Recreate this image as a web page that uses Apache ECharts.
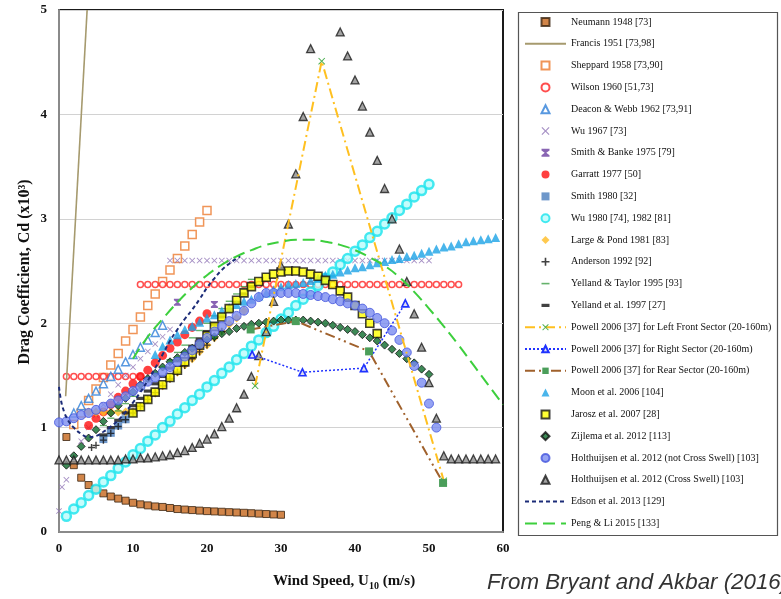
<!DOCTYPE html>
<html><head><meta charset="utf-8">
<script src="https://cdn.jsdelivr.net/npm/echarts@6/dist/echarts.min.js"></script>
<style>html,body{margin:0;padding:0;background:#fff}#c{width:781px;height:599px}</style>
</head><body><div id="c"></div>
<script>
// ---- axis ticks ----
const xTicks = [0, 10, 20, 30, 40, 50, 60];
const yTicks = [0, 1, 2, 3, 4, 5];

// ---- data: [wind speed U10 (m/s), Cd x 10^3] ----
const neumann = [[1,0.91],[2,0.64],[3,0.52],[4,0.45],[5,0.41],[6,0.37],[7,0.34],[8,0.32],[9,0.30],[10,0.28],[11,0.265],[12,0.255],[13,0.245],[14,0.24],[15,0.23],[16,0.22],[17,0.215],[18,0.21],[19,0.205],[20,0.20],[21,0.197],[22,0.194],[23,0.19],[24,0.187],[25,0.184],[26,0.18],[27,0.176],[28,0.172],[29,0.168],[30,0.165]];
const francis = [[0.9,1.30],[3.8,5.0]];
const sheppard = [[2,1.03],[3,1.14],[4,1.26],[5,1.37],[6,1.48],[7,1.60],[8,1.71],[9,1.83],[10,1.94],[11,2.06],[12,2.17],[13,2.28],[14,2.40],[15,2.51],[16,2.62],[17,2.74],[18,2.85],[19,2.97],[20,3.08]];
const wilson = [[1,1.49],[2,1.49],[3,1.49],[4,1.49],[5,1.49],[6,1.49],[7,1.49],[8,1.49],[9,1.49],[10,1.49],[11,1.49],
  [11,2.37],[12,2.37],[13,2.37],[14,2.37],[15,2.37],[16,2.37],[17,2.37],[18,2.37],[19,2.37],[20,2.37],[21,2.37],[22,2.37],[23,2.37],[24,2.37],[25,2.37],[26,2.37],[27,2.37],[28,2.37],[29,2.37],[30,2.37],[31,2.37],[32,2.37],[33,2.37],[34,2.37],[35,2.37],[36,2.37],[37,2.37],[38,2.37],[39,2.37],[40,2.37],[41,2.37],[42,2.37],[43,2.37],[44,2.37],[45,2.37],[46,2.37],[47,2.37],[48,2.37],[49,2.37],[50,2.37],[51,2.37],[52,2.37],[53,2.37],[54,2.37]];
const deaconWebb = [[2,1.14],[3,1.21],[4,1.28],[5,1.35],[6,1.42],[7,1.49],[8,1.56],[9,1.63],[10,1.70],[11,1.77],[12,1.84],[13,1.91],[14,1.98]];
const wu1967 = [[0,0.20],[0.4,0.43],[1,0.50],[2,0.71],[3,0.87],[4,1.00],[5,1.12],[6,1.22],[7,1.32],[8,1.41],[9,1.50],[10,1.58],[11,1.66],[12,1.73],[13,1.80],[14,1.87],[15,1.94],
  [15,2.6],[16,2.6],[17,2.6],[18,2.6],[19,2.6],[20,2.6],[21,2.6],[22,2.6],[23,2.6],[24,2.6],[25,2.6],[26,2.6],[27,2.6],[28,2.6],[29,2.6],[30,2.6],[31,2.6],[32,2.6],[33,2.6],[34,2.6],[35,2.6],[36,2.6],[37,2.6],[38,2.6],[39,2.6],[40,2.6],[41,2.6],[42,2.6],[43,2.6],[44,2.6],[45,2.6],[46,2.6],[47,2.6],[48,2.6],[49,2.6],[50,2.6]];
const smithBanke = [[16,2.20],[21,2.18]];
const garratt = [[4,1.02],[5,1.09],[6,1.15],[7,1.22],[8,1.29],[9,1.35],[10,1.42],[11,1.49],[12,1.55],[13,1.62],[14,1.69],[15,1.76],[16,1.82],[17,1.89],[18,1.96],[19,2.02],[20,2.09]];
const smith1980 = [[6,0.89],[7,0.95],[8,1.02],[9,1.08],[10,1.14]];
const wu1980 = [[1,0.15],[2,0.22],[3,0.28],[4,0.35],[5,0.41],[6,0.48],[7,0.54],[8,0.61],[9,0.67],[10,0.74],[11,0.80],[12,0.87],[13,0.93],[14,1.00],[15,1.06],[16,1.13],[17,1.19],[18,1.26],[19,1.32],[20,1.39],[21,1.45],[22,1.52],[23,1.58],[24,1.65],[25,1.71],[26,1.78],[27,1.84],[28,1.91],[29,1.97],[30,2.04],[31,2.10],[32,2.17],[33,2.23],[34,2.30],[35,2.36],[36,2.43],[37,2.49],[38,2.56],[39,2.62],[40,2.69],[41,2.75],[42,2.82],[43,2.88],[44,2.95],[45,3.01],[46,3.08],[47,3.14],[48,3.21],[49,3.27],[50,3.33]];
const largePond = [[4,1.15],[5,1.15],[6,1.15],[7,1.15],[8,1.15],[9,1.15],[10,1.15],[11,1.20],[12,1.27],[13,1.33],[14,1.40],[15,1.47],[16,1.53],[17,1.60],[18,1.66],[19,1.73],[20,1.79],[21,1.86],[22,1.92],[23,1.99],[24,2.05],[25,2.12]];
const anderson = [[4.4,0.81],[5,0.83],[6,0.88],[7,0.945],[8,1.01],[9,1.075],[10,1.14],[11,1.205],[12,1.27],[13,1.335],[14,1.40],[15,1.465],[16,1.53],[17,1.595],[18,1.66],[19,1.725],[20,1.79],[21,1.855],[22,1.92]];
const yellandTaylor = [[6,1.02],[7,1.09],[8,1.16],[9,1.23],[10,1.30],[11,1.37],[12,1.44],[13,1.51],[14,1.58],[15,1.65],[16,1.72],[17,1.79],[18,1.86],[19,1.93],[20,2.00],[21,2.07],[22,2.14],[23,2.21],[24,2.28],[25,2.35],[26,2.42]];
const yelland1997 = [[6,0.93],[7,1.00],[8,1.07],[9,1.14],[10,1.21],[11,1.28],[12,1.35],[13,1.42],[14,1.49],[15,1.57],[16,1.64],[17,1.71],[18,1.78],[19,1.85],[20,1.92],[21,1.99],[22,2.06],[23,2.13],[24,2.20],[25,2.28],[26,2.35]];
const powellLeftFront = [[26.5,1.40],[35.5,4.51],[52,0.49]];
const powellRight = [[26.1,1.70],[32.9,1.53],[41.2,1.57],[46.8,2.19]];
const powellRear = [[25.9,1.94],[32,2.02],[41.9,1.73],[51.9,0.47]];
const moon = [[13,1.70],[14,1.78],[15,1.84],[16,1.89],[17,1.94],[18,1.97],[19,2.01],[20,2.05],[21,2.08],[22,2.12],[23,2.15],[24,2.18],[25,2.21],[26,2.23],[27,2.26],[28,2.29],[29,2.32],[30,2.35],[31,2.37],[32,2.38],[33,2.39],[34,2.41],[35,2.43],[36,2.46],[37,2.47],[38,2.49],[39,2.51],[40,2.53],[41,2.54],[42,2.56],[43,2.58],[44,2.59],[45,2.61],[46,2.62],[47,2.64],[48,2.65],[49,2.67],[50,2.69],[51,2.71],[52,2.73],[53,2.74],[54,2.76],[55,2.78],[56,2.79],[57,2.80],[58,2.81],[59,2.82]];
const jarosz = [[10,1.14],[11,1.20],[12,1.27],[13,1.34],[14,1.41],[15,1.48],[16,1.55],[17,1.63],[18,1.71],[19,1.79],[20,1.88],[21,1.97],[22,2.06],[23,2.14],[24,2.22],[25,2.29],[26,2.35],[27,2.40],[28,2.44],[29,2.47],[30,2.49],[31,2.50],[32,2.50],[33,2.49],[34,2.47],[35,2.45],[36,2.41],[37,2.37],[38,2.31],[39,2.25],[40,2.17],[41,2.09],[42,2.00],[43,1.90]];
const zijlema = [[1,0.64],[2,0.73],[3,0.82],[4,0.90],[5,0.98],[6,1.06],[7,1.14],[8,1.21],[9,1.28],[10,1.34],[11,1.41],[12,1.47],[13,1.52],[14,1.58],[15,1.63],[16,1.67],[17,1.72],[18,1.76],[19,1.80],[20,1.84],[21,1.87],[22,1.90],[23,1.92],[24,1.95],[25,1.97],[26,1.99],[27,2.00],[28,2.01],[29,2.02],[30,2.03],[31,2.03],[32,2.03],[33,2.03],[34,2.02],[35,2.01],[36,2.00],[37,1.98],[38,1.96],[39,1.94],[40,1.92],[41,1.89],[42,1.86],[43,1.83],[44,1.79],[45,1.75],[46,1.71],[47,1.66],[48,1.62],[49,1.56],[50,1.51]];
const holtNotCross = [[0,1.05],[1,1.06],[2,1.09],[3,1.12],[4,1.14],[5,1.17],[6,1.20],[7,1.23],[8,1.26],[9,1.30],[10,1.35],[11,1.39],[12,1.44],[13,1.48],[14,1.53],[15,1.58],[16,1.63],[17,1.68],[18,1.74],[19,1.80],[20,1.86],[21,1.92],[22,1.97],[23,2.02],[24,2.07],[25,2.12],[26,2.19],[27,2.25],[28,2.29],[29,2.29],[30,2.29],[31,2.29],[32,2.29],[33,2.28],[34,2.27],[35,2.26],[36,2.25],[37,2.23],[38,2.21],[39,2.19],[40,2.17],[41,2.14],[42,2.10],[43,2.05],[44,2.00],[45,1.93],[46,1.84],[47,1.72],[48,1.59],[49,1.43],[50,1.23],[51,1.00]];
const holtCross = [[0,0.69],[1,0.69],[2,0.69],[3,0.69],[4,0.69],[5,0.69],[6,0.69],[7,0.69],[8,0.69],[9,0.70],[10,0.70],[11,0.71],[12,0.71],[13,0.72],[14,0.73],[15,0.74],[16,0.76],[17,0.78],[18,0.81],[19,0.85],[20,0.89],[21,0.94],[22,1.01],[23,1.09],[24,1.19],[25,1.32],[26,1.49],[27,1.69],[28,1.92],[29,2.21],[30,2.55],[31,2.95],[32,3.43],[33,3.98],[34,4.63],
  [38,4.79],[39,4.56],[40,4.33],[41,4.08],[42,3.83],[43,3.56],[44,3.29],[45,3.00],[46,2.71],[47,2.40],[48,2.09],[49,1.77],[50,1.43],[51,1.09],[52,0.73],[53,0.70],[54,0.70],[55,0.70],[56,0.70],[57,0.70],[58,0.70],[59,0.70]];
const edson = [[0,1.39],[0.3,1.25],[0.7,1.15],[1,1.10],[1.5,1.04],[2,1.00],[3,0.94],[4,0.91],[5,0.92],[6,0.96],[7,1.01],[8,1.07],[9,1.15],[10,1.24],[11,1.34],[12,1.45],[13,1.57],[14,1.70],[15,1.83],[16,1.94],[17,2.04],[18,2.13],[19,2.23],[20,2.34],[21,2.43],[22,2.51],[23,2.57],[24,2.62],[24.5,2.64]];
const pengLi = [[10,1.66],[12,1.87],[14,2.04],[16,2.20],[18,2.34],[20,2.46],[22,2.56],[24,2.64],[26,2.70],[28,2.75],[30,2.78],[32,2.80],[34,2.80],[36,2.78],[38,2.75],[40,2.70],[42,2.63],[44,2.55],[46,2.44],[48,2.30],[50,2.14],[52,1.97],[54,1.79],[56,1.60],[58,1.41],[60,1.22]];

// ---- marker shapes (all with square 10x10 bounds so aspect is kept) ----
const SYM_X = 'path://M1,0L5,4L9,0L10,1L6,5L10,9L9,10L5,6L1,10L0,9L4,5L0,1Z';
const SYM_PLUS = 'path://M4,0H6V4H10V6H6V10H4V6H0V4H4Z';
const SYM_DASH = 'path://M0,0M10,10M0,4H10V6H0Z';
const SYM_BAR = 'path://M0,0M10,10M0,3H10V7H0Z';
const SYM_HOUR = 'path://M0,0H10V2L6,5L10,8V10H0V8L4,5L0,2Z';
const SYM_SQ = 'path://M0,0H10V10H0Z';
const SYM_TRI = 'path://M5,0L10,10H0Z';
const SYM_DIA = 'path://M5,0L10,5L5,10L0,5Z';

function sc(name, data, symbol, size, itemStyle) {
  return { type: 'scatter', name, data, symbol, symbolSize: size, symbolKeepAspect: true,
           itemStyle, animation: false, emphasis: { disabled: true } };
}
function ln(name, data, lineStyle, extra) {
  return Object.assign({ type: 'line', name, data, showSymbol: false, symbol: 'none',
           lineStyle, itemStyle: { color: lineStyle.color }, animation: false, emphasis: { disabled: true } }, extra || {});
}

const series = [
  sc('Neumann 1948 [73]', neumann, SYM_SQ, 7, { color: '#c5661c', borderColor: '#3a2410', borderWidth: 1 }),
  ln('Francis 1951 [73,98]', francis, { color: '#a69a6e', width: 1.6 }),
  sc('Sheppard 1958 [73,90]', sheppard, SYM_SQ, 8, { color: '#ffffff', borderColor: '#ec7a2e', borderWidth: 1.5 }),
  sc('Wilson 1960 [51,73]', wilson, 'circle', 6, { color: '#ffffff', borderColor: '#ff2222', borderWidth: 1.5 }),
  sc('Deacon & Webb 1962 [73,91]', deaconWebb, SYM_TRI, 8, { color: '#ffffff', borderColor: '#2f7fd8', borderWidth: 1.5 }),
  sc('Wu 1967 [73]', wu1967, SYM_X, 6, { color: '#8f73b5' }),
  sc('Smith & Banke 1975 [79]', smithBanke, SYM_HOUR, 7, { color: '#6b3fa0' }),
  sc('Garratt 1977 [50]', garratt, 'circle', 9, { color: '#ff1010' }),
  sc('Smith 1980 [32]', smith1980, SYM_SQ, 8, { color: '#4a7dbd' }),
  sc('Wu 1980 [74], 1982 [81]', wu1980, 'circle', 9, { color: '#b8fbfb', borderColor: '#19e3ec', borderWidth: 2.5 }),
  sc('Large & Pond 1981 [83]', largePond, SYM_DIA, 9, { color: '#ffbb22' }),
  sc('Anderson 1992 [92]', anderson, SYM_PLUS, 7, { color: '#111111' }),
  sc('Yelland & Taylor 1995 [93]', yellandTaylor, SYM_DASH, 7, { color: '#3f9f46' }),
  sc('Yelland et al. 1997 [27]', yelland1997, SYM_BAR, 8, { color: '#111111' }),
  ln('Powell 2006 [37] for Left Front Sector (20-160m)', powellLeftFront, { color: '#ffc020', width: 2, type: [10, 4, 2, 4] },
     { showSymbol: true, symbol: SYM_X, symbolSize: 7, symbolKeepAspect: true, itemStyle: { color: '#4caf50' } }),
  ln('Powell 2006 [37] for Right Sector (20-160m)', powellRight, { color: '#2233ff', width: 1.5, type: [2, 2] },
     { showSymbol: true, symbol: SYM_TRI, symbolSize: 7, symbolKeepAspect: true, itemStyle: { color: '#dde', borderColor: '#1f33ff', borderWidth: 1.6 } }),
  ln('Powell 2006 [37] for Rear Sector (20-160m)', powellRear, { color: '#a0612c', width: 2, type: [10, 4, 2, 4, 2, 4] },
     { showSymbol: true, symbol: SYM_SQ, symbolSize: 8, symbolKeepAspect: true, itemStyle: { color: '#4b9e5a' } }),
  sc('Moon et al. 2006 [104]', moon, SYM_TRI, 9, { color: '#1ba3e6' }),
  sc('Jarosz et al. 2007 [28]', jarosz, SYM_SQ, 8, { color: '#ffff00', borderColor: '#111111', borderWidth: 1.6 }),
  sc('Zijlema et al. 2012 [113]', zijlema, SYM_DIA, 8, { color: '#0d6b2c', borderColor: '#111111', borderWidth: 1 }),
  sc('Holthuijsen et al. 2012 (not Cross Swell) [103]', holtNotCross, 'circle', 9, { color: '#7b8cf0', borderColor: '#4455dd', borderWidth: 1 }),
  sc('Holthuijsen et al. 2012 (Cross Swell) [103]', holtCross, SYM_TRI, 8, { color: '#8c8c8c', borderColor: '#1a1a1a', borderWidth: 1.3 }),
  ln('Edson et al. 2013 [129]', edson, { color: '#1c2c78', width: 2, type: [4, 3] }, { smooth: true }),
  ln('Peng & Li 2015 [133]', pengLi, { color: '#3dcf3d', width: 2, type: [12, 6] }, { smooth: true })
];

const hideSym = { 'Francis 1951 [73,98]': 1, 'Edson et al. 2013 [129]': 1, 'Peng & Li 2015 [133]': 1 };
const legendData = series.map(s => hideSym[s.name] ? { name: s.name, itemStyle: { opacity: 0 } } : { name: s.name });

const chart = echarts.init(document.getElementById('c'), null, { renderer: 'canvas' });
chart.setOption({
  backgroundColor: '#ffffff',
  animation: false,
  grid: { left: 59, right: 278, top: 10, bottom: 67, show: true, borderColor: '#1a1a1a', borderWidth: 2, backgroundColor: 'transparent' },
  xAxis: {
    type: 'value', min: xTicks[0], max: xTicks[xTicks.length - 1], interval: 10,
    axisLine: { show: true, onZero: false, lineStyle: { color: '#8a8a8a', width: 2 } },
    axisTick: { show: false }, splitLine: { show: false },
    axisLabel: { margin: 10, color: '#111', fontFamily: 'Liberation Serif', fontWeight: 'bold', fontSize: 13 }
  },
  yAxis: {
    type: 'value', min: yTicks[0], max: yTicks[yTicks.length - 1], interval: 1,
    axisLine: { show: true, onZero: false, lineStyle: { color: '#8a8a8a', width: 2 } },
    axisTick: { show: false },
    splitLine: { show: true, lineStyle: { color: '#d2d2d2', width: 1 } },
    axisLabel: { margin: 12, color: '#111', fontFamily: 'Liberation Serif', fontWeight: 'bold', fontSize: 13 }
  },
  legend: {
    left: 524, top: 17, orient: 'vertical', padding: 0,
    itemWidth: 41, itemHeight: 8, itemGap: 11.8,
    selectedMode: false,
    textStyle: { fontFamily: 'Liberation Serif', fontSize: 10, color: '#111' },
    data: legendData
  },
  graphic: [
    { type: 'rect', left: 516, top: 10, shape: { x: 0, y: 0, width: 259, height: 523 }, style: { fill: 'none', stroke: '#555', lineWidth: 1.2 }, silent: true },
    { type: 'text', x: 25, y: 272, rotation: Math.PI / 2, style: { text: 'Drag Coefficient, Cd (x10³)', fill: '#111', fontFamily: 'Liberation Serif', fontWeight: 'bold', fontSize: 16, align: 'center', verticalAlign: 'middle' } },
    { type: 'text', x: 344, y: 581, style: { text: 'Wind Speed, U{s|10} (m/s)', fill: '#111', fontFamily: 'Liberation Serif', fontWeight: 'bold', fontSize: 15, align: 'center', verticalAlign: 'middle', lineHeight: 20,
        rich: { s: { fontFamily: 'Liberation Serif', fontWeight: 'bold', fontSize: 10, verticalAlign: 'bottom', lineHeight: 20, padding: [6, 0, 0, 0] } } } },
    { type: 'text', x: 487, y: 583, style: { text: 'From Bryant and Akbar (2016)', fill: '#333', fontFamily: 'Liberation Sans', fontStyle: 'italic', fontSize: 22.3, align: 'left', verticalAlign: 'middle' } }
  ],
  series
});
</script></body></html>
